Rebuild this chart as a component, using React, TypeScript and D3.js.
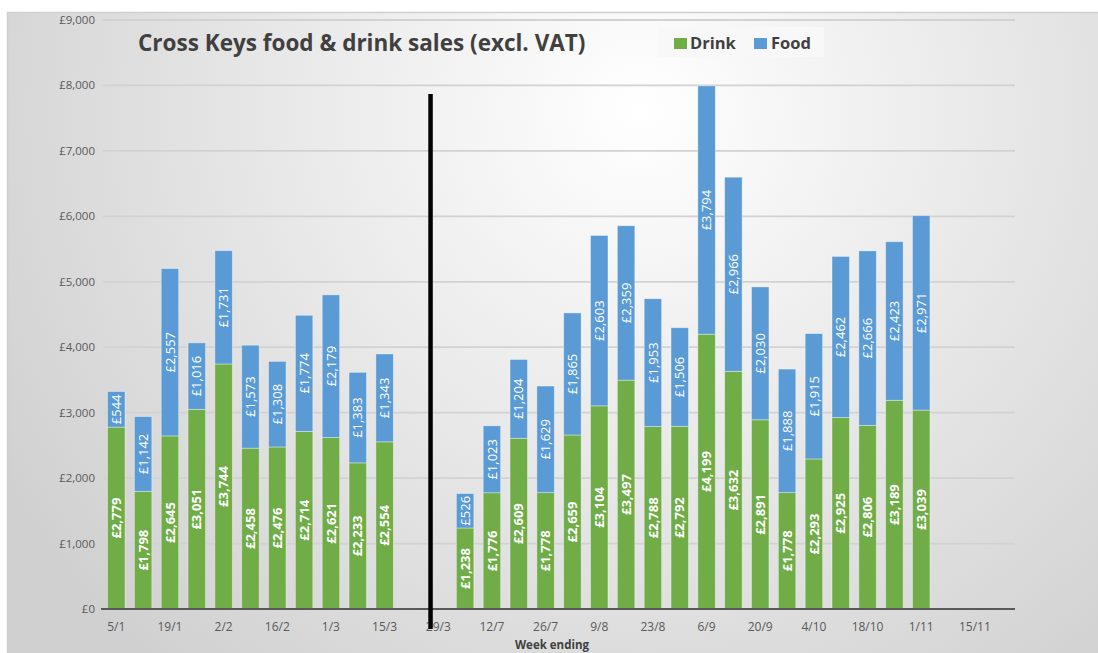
import React from 'react';
import * as d3 from 'd3';

// week-ending categories (gap between March and July is empty)
const weeks = [
  '5/1', '12/1', '19/1', '26/1', '2/2', '9/2', '16/2', '23/2', '1/3', '8/3', '15/3', '22/3', '29/3',
  '5/7', '12/7', '19/7', '26/7', '2/8', '9/8', '16/8', '23/8', '30/8', '6/9', '13/9', '20/9', '27/9',
  '4/10', '11/10', '18/10', '25/10', '1/11', '8/11', '15/11', '22/11',
];

const drink = [
  2779, 1798, 2645, 3051, 3744, 2458, 2476, 2714, 2621, 2233, 2554, null, null,
  1238, 1776, 2609, 1778, 2659, 3104, 3497, 2788, 2792, 4199, 3632, 2891, 1778,
  2293, 2925, 2806, 3189, 3039, null, null, null,
];

const food = [
  544, 1142, 2557, 1016, 1731, 1573, 1308, 1774, 2179, 1383, 1343, null, null,
  526, 1023, 1204, 1629, 1865, 2603, 2359, 1953, 1506, 3794, 2966, 2030, 1888,
  1915, 2462, 2666, 2423, 2971, null, null, null,
];

const yTicks = [0, 1000, 2000, 3000, 4000, 5000, 6000, 7000, 8000, 9000];
const breakWeek = '29/3';

const W = 1098;
const H = 653;
const margin = { top: 20, right: 83, bottom: 44, left: 103 };

const GREEN = '#70AD47';
const BLUE = '#5B9BD5';
const TEXT = '#595959';

const fmt = (v: number) => '£' + d3.format(',')(v);

export default function App() {
  const x = d3
    .scaleBand<string>()
    .domain(weeks)
    .range([margin.left, W - margin.right])
    .paddingInner(0.35)
    .paddingOuter(0.17);

  const y = d3.scaleLinear().domain([0, 9000]).range([H - margin.bottom, margin.top]);

  const bw = x.bandwidth();
  const lineX = (x(breakWeek) as number) + 1;

  return (
    <div style={{ position: 'fixed', left: 0, top: 0 }}>
      <svg width={W} height={H} style={{ display: 'block' }} fontFamily="'Open Sans', sans-serif">
        <defs>
          <radialGradient id="bg" gradientUnits="userSpaceOnUse" cx={640} cy={110} r={740}>
            <stop offset="0" stopColor="#ffffff" />
            <stop offset="1" stopColor="#d0d0d0" />
          </radialGradient>
        </defs>
        <rect x={0} y={0} width={W} height={H} fill="#ffffff" />
        <rect x={7.5} y={12.5} width={W} height={H} fill="url(#bg)" stroke="#d0d0d0" strokeWidth={1.5} />

        {/* gridlines + y labels */}
        {yTicks.map((t) => (
          <g key={t}>
            {t > 0 && (
              <line x1={margin.left} x2={W - margin.right} y1={y(t)} y2={y(t)} stroke="#d2d2d2" strokeWidth={1.8} />
            )}
            <text x={95} y={y(t)} dy="0.35em" textAnchor="end" fontSize={11.5} fill={TEXT}>
              {fmt(t)}
            </text>
          </g>
        ))}

        {/* bars */}
        {weeks.map((w, i) => {
          const d = drink[i];
          const f = food[i];
          if (d == null || f == null) return null;
          const bx = x(w) as number;
          const cx = bx + bw / 2;
          const yd = y(d);
          const yt = y(d + f);
          const y0 = y(0);
          return (
            <g key={w}>
              <rect x={bx} y={yd} width={bw} height={y0 - yd} fill={GREEN} stroke="rgba(255,255,255,0.45)" strokeWidth={0.8} />
              <rect x={bx} y={yt} width={bw} height={yd - yt} fill={BLUE} stroke="rgba(255,255,255,0.45)" strokeWidth={0.8} />
              <text
                transform={`translate(${cx},${(yd + y0) / 2}) rotate(-90)`}
                textAnchor="middle"
                dy="0.36em"
                fontSize={13}
                fontWeight="bold"
                fill="#ffffff"
              >
                {fmt(d)}
              </text>
              <text
                transform={`translate(${cx},${(yt + yd) / 2}) rotate(-90)`}
                textAnchor="middle"
                dy="0.36em"
                fontSize={13}
                fill="#ffffff"
              >
                {fmt(f)}
              </text>
            </g>
          );
        })}

        {/* x axis */}
        <line x1={margin.left - 2} x2={W - margin.right} y1={y(0)} y2={y(0)} stroke="#595959" strokeWidth={2} />
        {weeks.map((w, i) =>
          i % 2 === 0 ? (
            <text key={w} x={(x(w) as number) + bw / 2} y={y(0) + 22} textAnchor="middle" fontSize={12} fill={TEXT}>
              {w}
            </text>
          ) : null
        )}
        <text x={552} y={H - 4} textAnchor="middle" fontSize={11.5} fontWeight="bold" fill="#404040">
          Week ending
        </text>

        {/* break marker between the two periods */}
        <line x1={lineX} x2={lineX} y1={y(7870)} y2={y(0) + 20} stroke="#000000" strokeWidth={4.5} />

        {/* title */}
        <text x={138} y={51} fontSize={22.5} fontWeight="bold" fill="#404040">
          Cross Keys food &amp; drink sales (excl. VAT)
        </text>

        {/* legend */}
        <rect x={658} y={27} width={166} height={30} fill="#f8f8f8" />
        <rect x={674} y={38} width={13} height={11} fill={GREEN} />
        <text x={690} y={48.5} fontSize={16.5} fontWeight="bold" fill="#404040">
          Drink
        </text>
        <rect x={754} y={38} width={13} height={11} fill={BLUE} />
        <text x={771} y={48.5} fontSize={16.5} fontWeight="bold" fill="#404040">
          Food
        </text>
      </svg>
    </div>
  );
}
